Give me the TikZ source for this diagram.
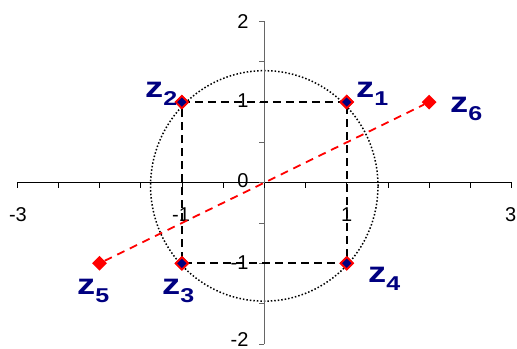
\documentclass[tikz,border=0pt]{standalone}
\usepackage{fontspec}
\setmainfont{Liberation Sans}
\newfontfamily\widefont[FakeStretch=1.25]{Liberation Sans}
\usetikzlibrary{shapes.geometric}

\definecolor{zblue}{RGB}{0,0,128}
\newcommand{\zname}[1]{z\raisebox{-8pt}{\fontsize{20}{20}\selectfont #1}}

\begin{document}
\begin{tikzpicture}[
    x=82.4pt, y=80.6pt,
    axis/.style={line width=0.8pt},
    ticklabel/.style={font=\fontsize{20}{20}\selectfont, inner sep=0pt},
    zlabel/.style={font=\widefont\bfseries\fontsize{29}{29}\selectfont,
        text=zblue, inner sep=0pt, anchor=base west},
    zpoint/.style={diamond, draw=red, fill=zblue, line width=1.8pt,
        minimum size=13pt, inner sep=0pt},
    zextra/.style={diamond, fill=red, minimum size=15pt, inner sep=0pt},
    guide/.style={dash pattern=on 8pt off 5pt, line width=1.8pt},
    diagonal/.style={red, dash pattern=on 8pt off 6pt, line width=1.8pt},
]
    \useasboundingbox (-3.2075,-2.0633) rectangle (3.0667,2.2667);

    % ---------- unit circle (dotted) ----------
    \draw[dotted, line width=1.5pt] (0,-0.04) ellipse [x radius=1.38, y radius=1.43];

    % ---------- axes ----------
    \draw[axis] (-3,0) -- (3,0);
    \draw[axis, black!60] (0,-2) -- (0,2);
    \foreach \t in {-3,-2.5,...,3}
        \draw[axis] (\t,0) -- ++(0,-5pt);
    \foreach \t in {-2,-1.5,...,2}
        \draw[axis, black!60] (0,\t) -- ++(-5pt,0);

    \node[ticklabel] (xm3) at (-2.99,-0.39) {-3};
    \node[ticklabel] (xm1) at (-1.01,-0.39) {-1};
    \node[ticklabel] (xp1) at (1.0,-0.39) {1};
    \node[ticklabel] (xp3) at (2.99,-0.39) {3};

    \node[ticklabel, anchor=east] (yp2) at (-0.19,2) {2};
    \node[ticklabel, anchor=east] (yp1) at (-0.19,1.02) {1};
    \node[ticklabel, anchor=east] (y0) at (-0.19,0.03) {0};
    \node[ticklabel, anchor=east] (ym1) at (-0.19,-0.99) {-1};
    \node[ticklabel, anchor=east] (ym2) at (-0.19,-1.94) {-2};

    % ---------- points ----------
    \node[zpoint] (z1) at (1,1) {};
    \node[zpoint] (z2) at (-1,1) {};
    \node[zpoint] (z3) at (-1,-1) {};
    \node[zpoint] (z4) at (1,-1) {};
    \node[zextra] (z5) at (-2,-1) {};
    \node[zextra] (z6) at (2,1) {};

    % ---------- dashed square and line ----------
    \draw[guide] (z2.center) -- (z1.center) -- (z4.center) -- (z3.center) -- cycle;
    \draw[diagonal] (z5) -- (z6);

    % redraw markers on top of the lines
    \node[zpoint] at (z1) {};
    \node[zpoint] at (z2) {};
    \node[zpoint] at (z3) {};
    \node[zpoint] at (z4) {};

    % ---------- labels ----------
    \node[zlabel] (z1-label) at (1.113,1.051) {\zname{1}};
    \node[zlabel] (z2-label) at (-1.448,1.051) {\zname{2}};
    \node[zlabel] (z3-label) at (-1.242,-1.393) {\zname{3}};
    \node[zlabel] (z4-label) at (1.258,-1.244) {\zname{4}};
    \node[zlabel] (z5-label) at (-2.273,-1.393) {\zname{5}};
    \node[zlabel] (z6-label) at (2.254,0.865) {\zname{6}};

\end{tikzpicture}
\end{document}
